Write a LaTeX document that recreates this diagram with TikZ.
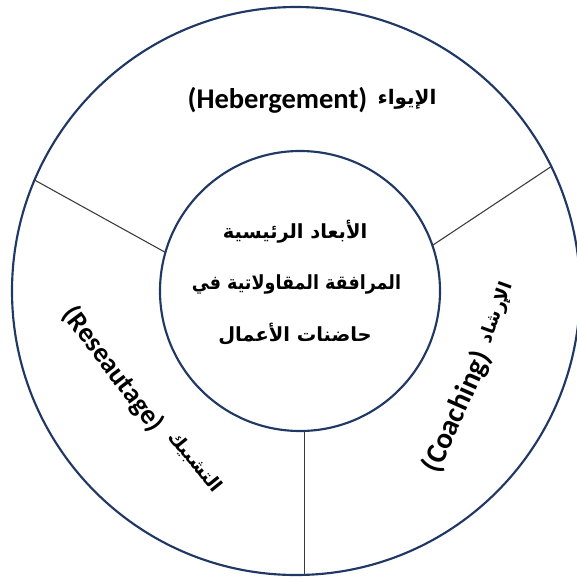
\documentclass[tikz,border=0pt]{standalone}
\usepackage{fontspec}
\setmainfont{Carlito}
\newfontfamily\arabicfont[Script=Arabic]{DejaVu Sans}
\TeXXeTstate=1
\definecolor{ringblue}{HTML}{203864}
\definecolor{divgray}{HTML}{3A3A3A}
\tikzset{
  ring/.style={circle, draw=ringblue, line width=1.6pt, inner sep=0pt, outer sep=0pt},
  divider/.style={draw=divgray, line width=0.8pt},
  latinlabel/.style={font=\fontsize{21.4}{24}\selectfont\bfseries, inner sep=0pt},
  arablabel/.style={font=\arabicfont\fontsize{15}{18}\selectfont\bfseries, inner sep=0pt},
  centerlabel/.style={font=\arabicfont\fontsize{14.6}{18}\selectfont\bfseries, inner sep=0pt}
}
\begin{document}
\begin{tikzpicture}[x=0.75pt, y=-0.75pt]
\useasboundingbox (0,0) rectangle (576,579);
\fill[white] (0,0) rectangle (576,579);
\node[ring, minimum size=426pt] (outer) at (296,291) {};
\node[ring, minimum size=210pt] (inner) at (300,291) {};
\draw[divider] (inner.164.6) -- (outer.157);
\draw[divider] (inner.19.5) -- (outer.26.4);
\draw[divider] (inner.272.5) -- (inner.272.5 |- outer.south);
% center text
\node[centerlabel] (c1) at (295,232) {\beginR الأبعاد الرئيسية\endR};
\node[centerlabel, xscale=0.9] (c2) at (296.5,284) {\beginR المرافقة المقاولاتية في\endR};
\node[centerlabel] (c3) at (295,334) {\beginR حاضنات الأعمال\endR};
% top
\node[latinlabel] (heb) at (277.5,100) {(Hebergement)};
\node[arablabel] (iwaa) at (407,99) {\beginR الإيواء\endR};
% right
\node[latinlabel, font=\fontsize{22}{24}\selectfont\bfseries, rotate=66] (coach) at (457,412) {(Coaching)};
\node[arablabel, font=\arabicfont\fontsize{13.5}{16}\selectfont\bfseries, rotate=70] (irshad) at (497,313) {\beginR الإرشاد\endR};
% left
\node[latinlabel, font=\fontsize{20.7}{24}\selectfont\bfseries, rotate=-53] (reseau) at (113,369) {(Reseautage)};
\node[arablabel, font=\arabicfont\fontsize{14}{16}\selectfont\bfseries, rotate=-51] (tashbik) at (195,462) {\beginR التشبيك\endR};
\end{tikzpicture}
\end{document}
